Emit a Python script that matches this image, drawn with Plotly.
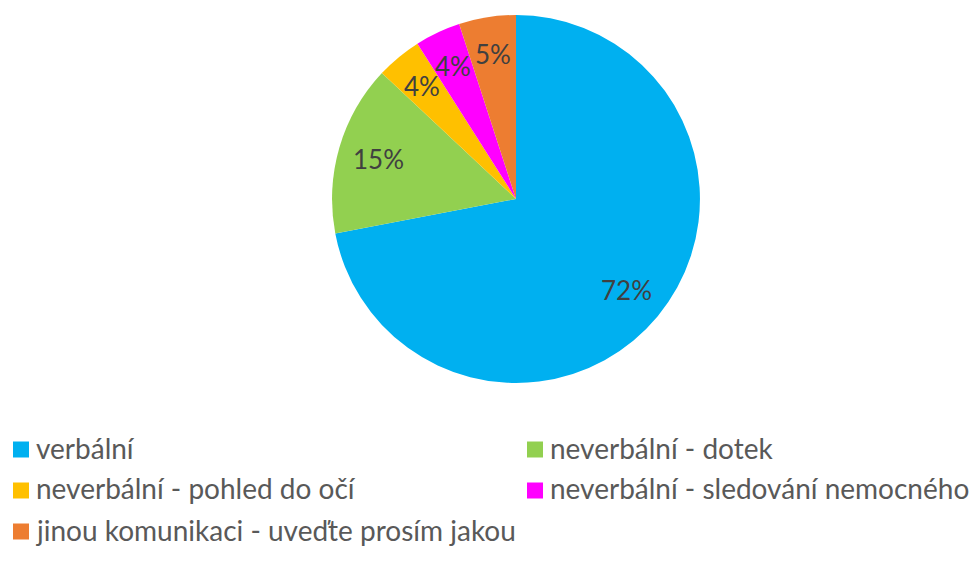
import math
import plotly.graph_objects as go

# Communication types and their shares (%)
labels = [
    "verbální",
    "neverbální - dotek",
    "neverbální - pohled do očí",
    "neverbální - sledování nemocného",
    "jinou komunikaci - uveďte prosím jakou",
]
values = [72, 15, 4, 4, 5]
colors = ["#00B0F0", "#92D050", "#FFC000", "#FF00FF", "#ED7D31"]

W, H = 970, 574
dom_x = [0.3423, 0.7216]
dom_y = [0.3328, 0.9739]

fig = go.Figure(
    go.Pie(
        labels=labels,
        values=values,
        sort=False,
        direction="clockwise",
        rotation=0,
        marker=dict(colors=colors, line=dict(width=0)),
        textinfo="none",
        domain=dict(x=dom_x, y=dom_y),
        hoverinfo="label+percent",
        showlegend=False,
    )
)

# Percentage labels placed along each slice's bisector
cx = (dom_x[0] + dom_x[1]) / 2 * W
cy = (dom_y[0] + dom_y[1]) / 2 * H
radius = min((dom_x[1] - dom_x[0]) * W, (dom_y[1] - dom_y[0]) * H) / 2
total = sum(values)
cum = 0
for v in values:
    mid = (cum + v / 2) / total * 2 * math.pi
    cum += v
    r = radius * (0.78 if v > 10 else 0.8)
    px = cx + r * math.sin(mid)
    py = cy + r * math.cos(mid)
    fig.add_annotation(
        x=px / W, y=py / H, xref="paper", yref="paper",
        xanchor="center", yanchor="middle",
        text=f"{round(v / total * 100)}%", showarrow=False,
        font=dict(family="Lato", size=26, color="#404040"),
    )

# Two-column legend below the pie
col_x = [13, 527]       # left edge of the colour key, px
row_y = [449.5, 490.5, 531.5]  # row centres, px from top
key = 16
for i, (lab, col) in enumerate(zip(labels, colors)):
    x0 = col_x[i % 2]
    yc = row_y[i // 2]
    fig.add_shape(
        type="rect", xref="paper", yref="paper",
        x0=x0 / W, x1=(x0 + key) / W,
        y0=1 - (yc + key / 2) / H, y1=1 - (yc - key / 2) / H,
        fillcolor=col, line=dict(width=0),
    )
    fig.add_annotation(
        x=(x0 + key + 5) / W, y=1 - (yc - 2) / H, xref="paper", yref="paper",
        xanchor="left", yanchor="middle", text=lab, showarrow=False,
        font=dict(family="Lato", size=28, color="#595959"),
    )

fig.update_layout(
    width=W,
    height=H,
    margin=dict(l=0, r=0, t=0, b=0),
    paper_bgcolor="white",
    plot_bgcolor="white",
    showlegend=False,
)

fig.write_html("out.html")
